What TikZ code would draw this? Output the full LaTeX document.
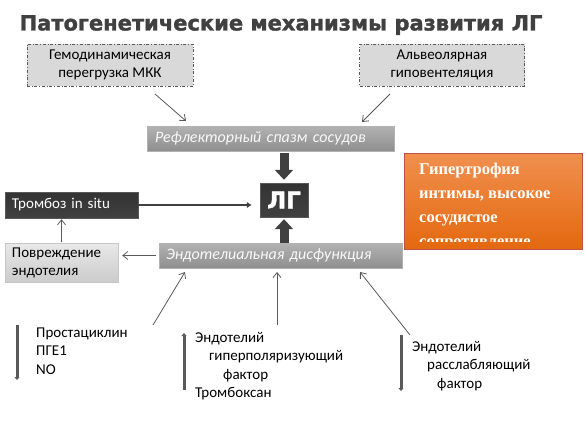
\documentclass[tikz,border=0pt]{standalone}
\usepackage{fontspec}
\setmainfont{Carlito}
\newfontfamily\titlefont[FakeBold=1.5]{DejaVu Sans Bold}
\newfontfamily\boxserif{Liberation Serif}
\usepackage{tikz}
\usetikzlibrary{arrows.meta}
\definecolor{titlegr}{HTML}{404040}
\definecolor{darkgr}{HTML}{404040}
\definecolor{linegr}{HTML}{595959}
\definecolor{lightgr}{HTML}{D9D9D9}
\definecolor{midtop}{HTML}{B2B2B2}
\definecolor{midbot}{HTML}{8F8F8F}
\definecolor{orangetop}{HTML}{F0904F}
\definecolor{orangebot}{HTML}{E4680F}
\definecolor{orangeline}{HTML}{C0504D}
\tikzset{
  dashbox/.style={draw=linegr, dash dot, fill=lightgr, minimum width=166pt, minimum height=42pt,
    align=center, font=\fontsize{15}{18}\selectfont},
  graybar/.style={draw=midtop, top color=midtop, bottom color=midbot, text=white!95!gray,
    minimum height=25pt, inner xsep=8pt, align=left, font=\itshape\fontsize{16}{19}\selectfont},
  darkbox/.style={draw=linegr, top color=darkgr!80!black, bottom color=darkgr, text=white},
  thinarr/.style={draw=linegr, line width=0.8pt, -{Straight Barb[length=5pt,width=8pt]}},
  bigarr/.style={draw=darkgr, line width=9pt, -{Triangle[length=10pt,width=18pt]}},
  bar/.style={draw=linegr, line width=3pt, -{Triangle[length=3pt,width=5pt]}},
  listtext/.style={anchor=west, align=left, inner sep=0pt, font=\fontsize{15}{18.3}\selectfont}
}

\begin{document}
\begin{tikzpicture}[x=1pt, y=-1pt]
\useasboundingbox (0,0) rectangle (586,423);

\node [text=titlegr, font=\titlefont\fontsize{21}{24}\selectfont] (title) at (281,25) {Патогенетические механизмы развития ЛГ};

\node [dashbox] (hemo) at (110,65) {Гемодинамическая\\перегрузка МКК};
\node [dashbox, minimum width=165pt] (alveo) at (442,65) {Альвеолярная\\гиповентеляция};

\node [graybar, text width=231pt] (reflex) at (270.5,138.5) {Рефлекторный спазм сосудов};
\node [graybar, text width=229pt, inner xsep=7pt] (endo) at (280.5,255.5) {Эндотелиальная дисфункция};

\node [darkbox, minimum width=48pt, minimum height=34pt, inner sep=0pt,
  font=\titlefont\fontsize{23}{26}\selectfont] (lg) at (284,200) {ЛГ};
\node [darkbox, text width=119pt, inner xsep=7pt, minimum height=26pt, align=left,
  font=\fontsize{15}{18}\selectfont] (tromb) at (71.5,205) {Тромбоз in situ};
\node [draw=lightgr!80!gray, top color=lightgr!60!white, bottom color=lightgr!85!gray, text width=99pt,
  inner xsep=7pt, minimum height=39pt, align=left, font=\fontsize{15}{18}\selectfont] (povr) at (61.5,262.5) {Повреждение\\эндотелия};

\node [draw=orangeline, top color=orangetop, bottom color=orangebot, minimum width=178pt, minimum height=96pt] (hyper) at (493,201) {};
\begin{scope}
  \clip (404,153) rectangle (582,241);
  \node [anchor=north west, inner sep=0pt, align=left, text=white,
    font=\boxserif\bfseries\fontsize{16.5}{24}\selectfont] (hypertext) at (419,163) {Гипертрофия\\интимы, высокое\\сосудистое\\сопротивление};
\end{scope}

\coordinate (h1) at (155,94);
\coordinate (h2) at (186,121);
\coordinate (a1) at (390,94);
\coordinate (a2) at (362,122);
\draw [thinarr] (h1) -- (h2);
\draw [thinarr] (a1) -- (a2);

\draw [bigarr, shorten <=2pt, shorten >=3pt] (reflex.south -| lg.north) -- (lg.north);
\draw [bigarr, shorten >=2pt] (endo.north -| lg.south) -- (lg.south);
\draw [draw=darkgr, line width=2.5pt, -{Latex[length=5pt,width=6.5pt]}, shorten >=8pt] (tromb.east) -- (tromb.east -| lg.west);
\draw [thinarr, shorten <=1pt, shorten >=1pt] (povr.north) -- (povr.north |- tromb.south);
\draw [thinarr, shorten <=3pt, shorten >=4pt] (endo.west) -- (endo.west -| povr.east);

\coordinate (l1) at (153,325);
\coordinate (l2) at (185,272);
\coordinate (m1) at (277,325);
\coordinate (m2) at (277,272);
\coordinate (r1) at (410,335);
\coordinate (r2) at (360,272);
\draw [thinarr] (l1) -- (l2);
\draw [thinarr] (m1) -- (m2);
\draw [thinarr] (r1) -- (r2);

\coordinate (b1top) at (17,325);
\coordinate (b1bot) at (17,380);
\coordinate (b2bot) at (184,390);
\coordinate (b2top) at (184,333);
\coordinate (b3top) at (401,335);
\coordinate (b3bot) at (401,391);
\draw [bar] (b1top) -- (b1bot);
\draw [bar] (b2bot) -- (b2top);
\draw [bar] (b3top) -- (b3bot);

\node [listtext] (list1) at (36,351) {Простациклин\\ПГЕ1\\NO};
\node [listtext] (list2) at (195,366) {Эндотелий\\\hspace*{14pt}гиперполяризующий\\\hspace*{28pt}фактор\\Тромбоксан};
\node [listtext] (list3) at (412,366) {Эндотелий\\\hspace*{15pt}расслабляющий\\\hspace*{25pt}фактор};
\end{tikzpicture}
\end{document}
